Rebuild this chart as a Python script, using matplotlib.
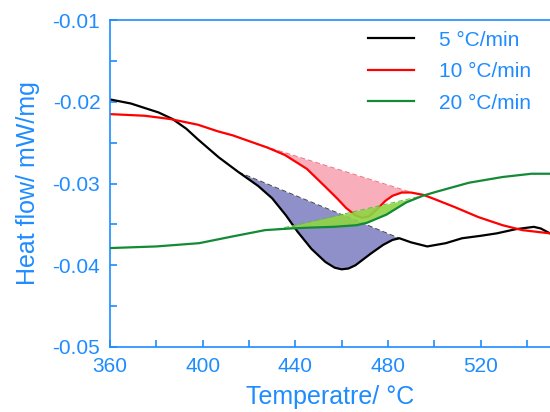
import numpy as np
import matplotlib
matplotlib.use('Agg')
import matplotlib.pyplot as plt

plt.rcParams['font.family'] = ['Liberation Sans', 'DejaVu Sans']

BLUE = '#1e8cff'

# 5 C/min
t_black = [360, 369, 381, 387, 393, 398, 407, 415.5, 424, 430, 436, 441, 447, 453,
           457, 460, 463, 466, 472.5, 478, 482, 485, 490, 497, 505, 512, 520, 527,
           535, 543, 546, 550]
hf_black = [-0.0197, -0.0202, -0.0213, -0.0221, -0.0233, -0.0246, -0.0268, -0.0286,
            -0.0303, -0.0318, -0.0339, -0.0359, -0.0380, -0.0396, -0.0403, -0.0405,
            -0.0404, -0.0400, -0.0386, -0.0375, -0.0369, -0.0367, -0.0372, -0.0377,
            -0.0373, -0.0367, -0.0364, -0.0361, -0.0356, -0.0353, -0.0355, -0.0361]

# 10 C/min
t_red = [360, 375, 386, 398, 406.5, 413, 421, 428, 435.5, 445, 453, 458, 462, 466,
         469, 472, 475.5, 479, 482, 486, 490, 495.5, 501, 509, 519, 529.5, 538, 550]
hf_red = [-0.0215, -0.0217, -0.0221, -0.0228, -0.0236, -0.0241, -0.0249, -0.0256,
          -0.0265, -0.0282, -0.0304, -0.0318, -0.0330, -0.0339, -0.0342, -0.0340,
          -0.0331, -0.0321, -0.0315, -0.0311, -0.0311, -0.0314, -0.0320, -0.0329,
          -0.0341, -0.0351, -0.0357, -0.0361]

# 20 C/min
t_green = [360, 380, 398.5, 412.5, 427, 438, 446, 456.5, 466.5, 471, 479.4, 488, 495,
           501, 515, 529.5, 542, 550]
hf_green = [-0.0379, -0.0377, -0.0373, -0.0365, -0.0357, -0.0355, -0.0354, -0.0353,
            -0.0351, -0.0348, -0.0338, -0.0323, -0.0315, -0.0310, -0.0299, -0.0292,
            -0.0288, -0.0288]

# peak integration limits (start, end) in C
peak_black = (415.5, 485)
peak_red = (423, 491)
peak_green = (432, 495)


def peak_fill(ax, t, hf, lims, fill_color, line_color, z, alpha):
    t = np.asarray(t, float)
    hf = np.asarray(hf, float)
    t0, t1 = lims
    inner = t[(t > t0) & (t < t1)]
    tt = np.concatenate([[t0], inner, [t1]])
    yy = np.interp(tt, t, hf)
    y0, y1 = yy[0], yy[-1]
    base = y0 + (tt - t0) / (t1 - t0) * (y1 - y0)
    ax.fill_between(tt, yy, base, color=fill_color, alpha=alpha, lw=0, zorder=z)
    ax.plot([t0, t1], [y0, y1], ls=(0, (5, 3)), color=line_color, lw=0.7, zorder=z)


fig = plt.figure(figsize=(5.5, 4.12), dpi=100)
ax = fig.add_axes([0.2, 0.158, 0.8, 0.793])

peak_fill(ax, t_black, hf_black, peak_black, '#7c7cc0', '#444444', 1, 0.85)
peak_fill(ax, t_red, hf_red, peak_red, '#f7a0b0', '#f07080', 1, 0.85)

ax.plot(t_black, hf_black, color='black', lw=1.6, label='5 °C/min', zorder=2)
ax.plot(t_red, hf_red, color='#ff0000', lw=1.6, label='10 °C/min', zorder=2)

peak_fill(ax, t_green, hf_green, peak_green, '#8ed443', '#5cbf40', 3, 0.9)
ax.plot(t_green, hf_green, color='#138a36', lw=1.6, label='20 °C/min', zorder=4)

ax.set_xlim(360, 550)
ax.set_ylim(-0.05, -0.01)
ax.set_xticks([360, 400, 440, 480, 520])
ax.set_xticks(np.arange(380, 550, 40), minor=True)
ax.set_yticks([-0.05, -0.04, -0.03, -0.02, -0.01])
ax.set_yticks([-0.045, -0.035, -0.025, -0.015], minor=True)
ax.set_yticklabels(['-0.05', '-0.04', '-0.03', '-0.02', '-0.01'])

for s in ax.spines.values():
    s.set_color(BLUE)
    s.set_linewidth(1.2)
ax.spines['right'].set_visible(False)
ax.tick_params(which='both', direction='in', color=BLUE, length=5, width=1.2,
               labelcolor=BLUE, labelsize=15, top=False, right=False)
ax.tick_params(axis='y', pad=7)
ax.tick_params(axis='x', pad=7)

ax.set_xlabel('Temperatre/ °C', color=BLUE, fontsize=18, labelpad=7)
ax.set_ylabel('Heat flow/ mW/mg', color=BLUE, fontsize=18, labelpad=9)

ax.legend(loc='upper right', bbox_to_anchor=(0.98, 1.0), frameon=False, fontsize=15,
          labelcolor=BLUE, handlelength=2.2, handletextpad=1.2, labelspacing=0.6,
          borderaxespad=0.1)

fig.savefig('out.png', dpi=100)
